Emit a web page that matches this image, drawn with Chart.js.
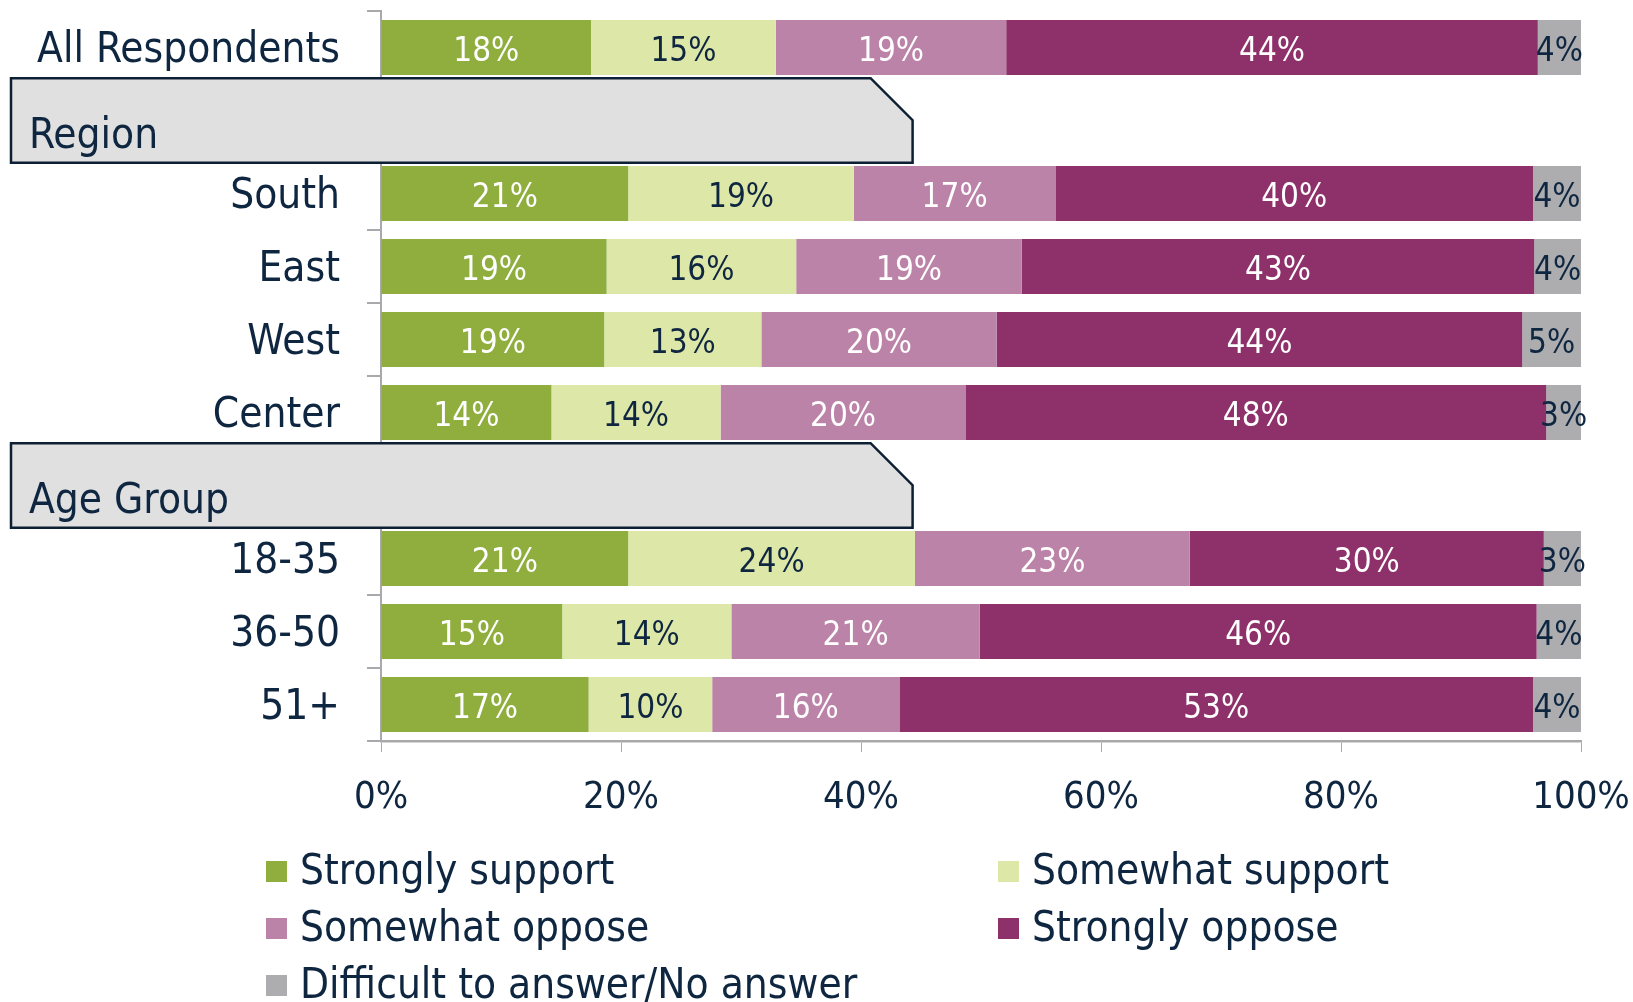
<!DOCTYPE html>
<html>
<head>
<meta charset="utf-8">
<script src="https://cdn.jsdelivr.net/npm/chart.js@4.4.1/dist/chart.umd.min.js"></script>
<style>
  html, body { margin: 0; padding: 0; background: #ffffff; }
  #wrap { position: absolute; left: 0; top: 0; width: 1633px; height: 1002px; }
  #legend { position: absolute; left: 0; top: 0; width: 1633px; height: 1002px; pointer-events: none;
            font-family: 'DejaVu Sans Condensed', 'DejaVu Sans', sans-serif; font-size: 42px; color: #0F2641; }
  .li { position: absolute; white-space: nowrap; line-height: 1; }
  .sw { position: absolute; width: 21px; height: 21px; }
</style>
</head>
<body>
<div id="wrap"><canvas id="c" width="1633" height="1002"></canvas></div>
<div id="legend"></div>
<script>
// ---- data ----
const categories = ['All Respondents', '', 'South', 'East', 'West', 'Center', '', '18-35', '36-50', '51+'];
const headers = ['Region', 'Age Group'];          // section header rows
const headerRows = [1, 6];
const seriesNames = ['Strongly support', 'Somewhat support', 'Somewhat oppose', 'Strongly oppose', 'Difficult to answer/No answer'];
const strongSupport   = [17.5, null, 20.6, 18.8, 18.6, 14.2, null, 20.6, 15.1, 17.3];
const somewhatSupport = [15.4, null, 18.8, 15.8, 13.1, 14.1, null, 23.9, 14.1, 10.3];
const somewhatOppose  = [19.2, null, 16.8, 18.8, 19.6, 20.4, null, 22.9, 20.7, 15.6];
const strongOppose    = [44.3, null, 39.8, 42.7, 43.8, 48.4, null, 29.5, 46.4, 52.8];
const noAnswer        = [3.6,  null, 4.0,  3.9,  4.9,  2.9,  null, 3.1,  3.7,  4.0];
const xTicks = [0, 20, 40, 60, 80, 100];

const colors = ['#8FAE3E', '#DDE8A8', '#BC83A8', '#8E316B', '#ADADAF'];
const labelColors = ['#FFFFFF', '#0F2641', '#FFFFFF', '#FFFFFF', '#0F2641'];
const FONT = "'DejaVu Sans Condensed', 'DejaVu Sans', sans-serif";
const NAVY = '#0F2641';
const AXIS = '#A9A9AB';

const seriesData = [strongSupport, somewhatSupport, somewhatOppose, strongOppose, noAnswer];

const valueLabels = {
  id: 'valueLabels',
  afterDatasetsDraw(chart) {
    const ctx = chart.ctx;
    ctx.save();
    ctx.font = '33px ' + FONT;
    ctx.textAlign = 'center';
    ctx.textBaseline = 'middle';
    chart.data.datasets.forEach((ds, i) => {
      const meta = chart.getDatasetMeta(i);
      meta.data.forEach((bar, j) => {
        const v = ds.data[j];
        if (v == null) return;
        const p = bar.getProps(['x', 'base', 'y'], true);
        ctx.fillStyle = labelColors[i];
        ctx.fillText(Math.round(v) + '%', (p.x + p.base) / 2, p.y + 5);
      });
    });
    ctx.restore();
  }
};

const sectionBoxes = {
  id: 'sectionBoxes',
  afterDraw(chart) {
    const ctx = chart.ctx;
    const ys = chart.scales.y, xs = chart.scales.x;
    const slot = (ys.bottom - ys.top) / categories.length;
    ctx.save();
    headerRows.forEach((row, k) => {
      const cy = ys.getPixelForValue(row);
      const top = cy - slot * 0.58, bottom = cy + slot * 0.58;
      const left = 11, right = xs.getPixelForValue(44.3);
      const ch = 42;
      ctx.beginPath();
      ctx.moveTo(left, top);
      ctx.lineTo(right - ch, top);
      ctx.lineTo(right, top + ch);
      ctx.lineTo(right, bottom);
      ctx.lineTo(left, bottom);
      ctx.closePath();
      ctx.fillStyle = '#E0E0E0';
      ctx.fill();
      ctx.lineWidth = 2.5;
      ctx.strokeStyle = '#0D1F33';
      ctx.stroke();
      ctx.fillStyle = NAVY;
      ctx.font = '42px ' + FONT;
      ctx.textAlign = 'left';
      ctx.textBaseline = 'alphabetic';
      ctx.fillText(headers[k], 29, bottom - 15);
    });
    ctx.restore();
  }
};

const chart = new Chart(document.getElementById('c'), {
  type: 'bar',
  data: {
    labels: categories,
    datasets: seriesNames.map((name, i) => ({
      label: name,
      data: seriesData[i],
      backgroundColor: colors[i],
      borderWidth: 0,
      categoryPercentage: 1,
      barPercentage: 0.753
    }))
  },
  options: {
    indexAxis: 'y',
    responsive: false,
    animation: false,
    layout: { padding: { top: 11, right: 52, left: 0, bottom: 0 } },
    plugins: { legend: { display: false }, tooltip: { enabled: false } },
    scales: {
      x: {
        stacked: true, min: 0, max: 100,
        afterFit(s) { s.height = 261; s.paddingLeft = 0; s.paddingRight = 0; },
        afterBuildTicks(s) { s.ticks = xTicks.map(v => ({ value: v })); },
        ticks: { callback: v => v + '%', color: NAVY, font: { family: FONT, size: 38 }, padding: 23, maxRotation: 0 },
        grid: { drawOnChartArea: false, tickLength: 11, color: AXIS, lineWidth: 1 },
        border: { color: AXIS, width: 2.5 }
      },
      y: {
        stacked: true,
        afterFit(s) { s.width = 381; s.paddingTop = 0; s.paddingBottom = 0; },
        ticks: { color: NAVY, font: { family: FONT, size: 42 }, padding: 27, autoSkip: false, labelOffset: 4 },
        grid: { drawOnChartArea: false, tickLength: 14, color: AXIS, lineWidth: 2, offset: true },
        border: { color: AXIS, width: 2 }
      }
    }
  },
  plugins: [valueLabels, sectionBoxes]
});

// ---- legend ----
const legendPos = [[266, 873], [998, 873], [266, 930], [998, 930], [266, 987]];
const lg = document.getElementById('legend');
seriesNames.forEach((name, i) => {
  const [x, y] = legendPos[i];
  const sw = document.createElement('div');
  sw.className = 'sw';
  sw.style.left = x + 'px';
  sw.style.top = (y - 12) + 'px';
  sw.style.background = colors[i];
  lg.appendChild(sw);
  const t = document.createElement('div');
  t.className = 'li';
  t.textContent = name;
  t.style.left = (x + 34) + 'px';
  t.style.top = (y - 24) + 'px';
  lg.appendChild(t);
});
</script>
</body>
</html>
